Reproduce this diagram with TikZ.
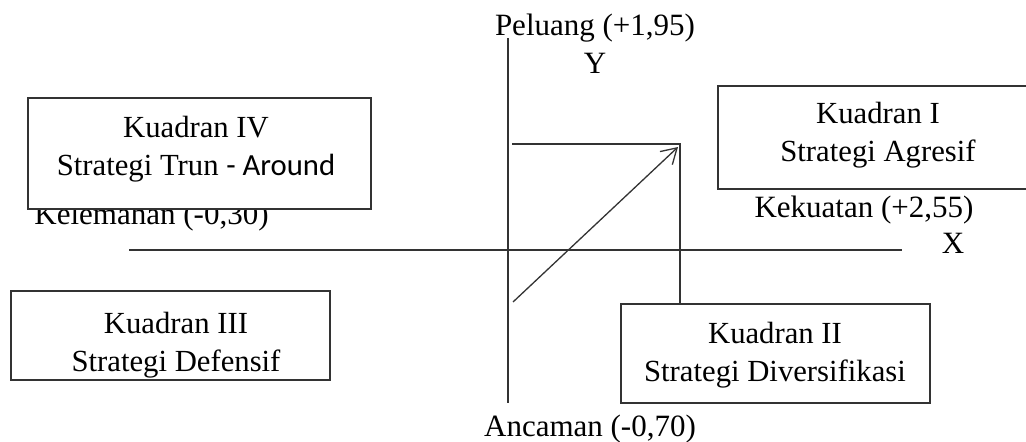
\documentclass[tikz,border=0pt]{standalone}
\usepackage{fontspec}
\setmainfont{Liberation Serif}
\newfontfamily\carlito{Carlito}
\usetikzlibrary{arrows.meta}
\begin{document}
\begin{tikzpicture}[x=1pt,y=-1pt,
  axis/.style={draw=black!80, line width=1.3pt},
  qbox/.style={draw=black!80, line width=1.3pt, fill=white, inner sep=0pt},
  qtext/.style={font=\fontsize{30.7}{38}\selectfont, align=center, inner sep=0pt},
  lbl/.style={font=\fontsize{31}{37}\selectfont, inner sep=0pt, anchor=base}]
\useasboundingbox (0,0) rectangle (1026,442);
\clip (0,0) rectangle (1026,442);

% axis labels
\node[lbl] (peluang) at (595,35) {Peluang (+1,95)};
\node[lbl] (ylbl) at (595,73) {Y};
\node[lbl] (kekuatan) at (864,217) {Kekuatan (+2,55)};
\node[lbl] (xlbl) at (953,253) {X};
\node[lbl] (kelemahan) at (151.5,224) {Kelemahan (-0,30)};
\node[lbl] (ancaman) at (590,436) {Ancaman (-0,70)};

% axes
\coordinate (ytop) at (508,38);
\coordinate (ybot) at (508,403);
\coordinate (xl) at (129,250);
\coordinate (xr) at (902,250);
\draw[axis] (ytop) -- (ybot);
\draw[axis] (xl) -- (xr);

% quadrant boxes
\node[qbox, minimum width=343, minimum height=111] (q4) at (199.5,153.5) {};
\node[qtext] (q4t) at (196,149) {Kuadran IV\\Strategi Trun {\carlito - Around}};

% this box runs past the right edge of the page
\node[qbox, overlay, minimum width=400, minimum height=103] (q1) at (918,137.5) {};
\node[qtext] (q1t) at (878,135.4) {Kuadran I\\Strategi Agresif};

\node[qbox, minimum width=319, minimum height=89] (q3) at (170.5,335.5) {};
\node[qtext] (q3t) at (176,345.4) {Kuadran III\\Strategi Defensif};

\node[qbox, minimum width=309, minimum height=99] (q2) at (775.5,353.5) {};
\node[qtext] (q2t) at (775,355) {Kuadran II\\Strategi Diversifikasi};

% position lines and the strategy arrow
\coordinate (r0) at (512,144);
\coordinate (r1) at (680,144);
\draw[axis] (r0) -- (r1) -- (q2.north -| r1);
\coordinate (a0) at (513,302);
\coordinate (a1) at (678,147);
\draw[axis, -{Straight Barb[length=15pt,width=18pt]}] (a0) -- (a1);
\end{tikzpicture}
\end{document}
